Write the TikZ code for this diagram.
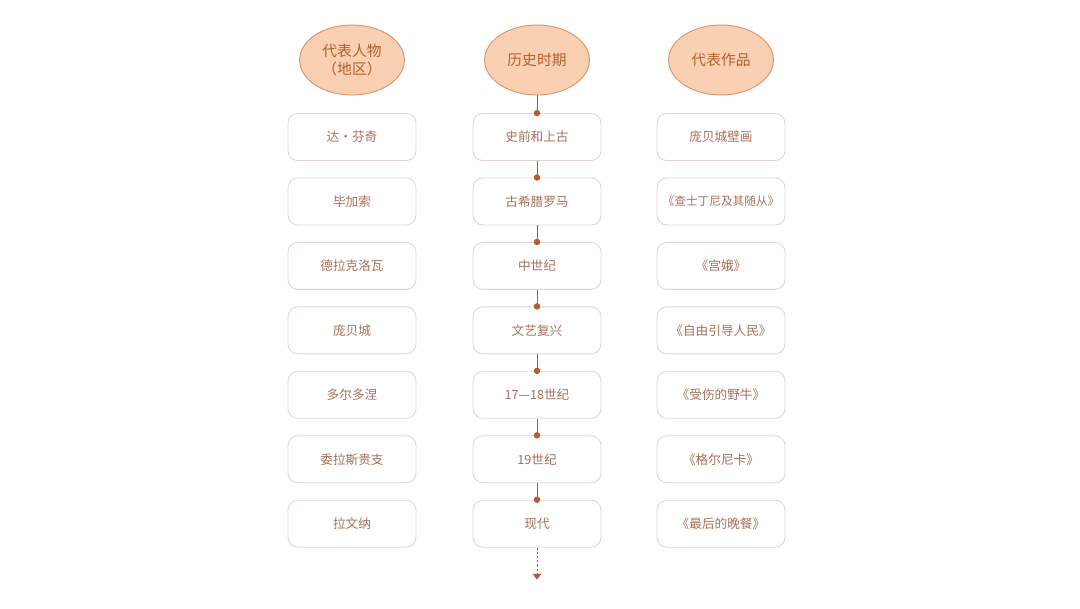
\documentclass[tikz,border=0pt]{standalone}
\usepackage{fontspec}
\newfontfamily\cjk{Noto Sans CJK SC}
\definecolor{peachfill}{HTML}{F9D0B2}
\definecolor{peachdraw}{HTML}{DB9670}
\definecolor{headtext}{HTML}{B4602F}
\definecolor{boxtext}{HTML}{A8705C}
\definecolor{boxline}{HTML}{E3D3CE}
\definecolor{linkred}{HTML}{B65A33}
\usetikzlibrary{
  positioning,
  arrows.meta,
  shapes.geometric
}

\begin{document}
\begin{tikzpicture}[
  head/.style={
    ellipse, minimum width=2.62cm, minimum height=1.75cm, inner sep=0pt,
    fill=peachfill, draw=peachdraw, line width=0.7pt,
    font=\cjk\fontsize{10.5}{13}\selectfont, text=headtext, align=center
  },
  cell/.style={
    rectangle, rounded corners=7pt, minimum width=3.2cm, minimum height=1.175cm,
    inner xsep=2pt, draw=boxline, line width=0.6pt, fill=white,
    font=\cjk\fontsize{9}{11}\selectfont, text=boxtext
  },
  link/.style={draw=linkred, line width=0.7pt, -{Circle[length=4.5pt]}, shorten >=-2.25pt}
]
\useasboundingbox (0,0) rectangle (27,-15.2);

% column heads
\node[head] (people) at (8.8,-1.5) {代表人物\\（地区）};
\node[head] (period) at (13.425,-1.5) {历史时期};
\node[head] (works) at (18.025,-1.5) {代表作品};

% people
\node[cell, below=0.44cm of people] (a1) {达·芬奇};
\node[cell, below=0.415cm of a1] (a2) {毕加索};
\node[cell, below=0.415cm of a2] (a3) {德拉克洛瓦};
\node[cell, below=0.415cm of a3] (a4) {庞贝城};
\node[cell, below=0.415cm of a4] (a5) {多尔多涅};
\node[cell, below=0.415cm of a5] (a6) {委拉斯贵支};
\node[cell, below=0.415cm of a6] (a7) {拉文纳};

% periods
\node[cell, below=0.44cm of period] (p1) {史前和上古};
\node[cell, below=0.415cm of p1] (p2) {古希腊罗马};
\node[cell, below=0.415cm of p2] (p3) {中世纪};
\node[cell, below=0.415cm of p3] (p4) {文艺复兴};
\node[cell, below=0.415cm of p4] (p5) {17—18世纪};
\node[cell, below=0.415cm of p5] (p6) {19世纪};
\node[cell, below=0.415cm of p6] (p7) {现代};
\coordinate[below=0.8cm of p7] (later);

% works
\node[cell, below=0.44cm of works] (w1) {庞贝城壁画};
\node[cell, below=0.415cm of w1, font=\cjk\fontsize{8.3}{10}\selectfont] (w2) {《查士丁尼及其随从》};
\node[cell, below=0.415cm of w2] (w3) {《宫娥》};
\node[cell, below=0.415cm of w3] (w4) {《自由引导人民》};
\node[cell, below=0.415cm of w4] (w5) {《受伤的野牛》};
\node[cell, below=0.415cm of w5] (w6) {《格尔尼卡》};
\node[cell, below=0.415cm of w6] (w7) {《最后的晚餐》};

% timeline
\draw[link] (period) -- (p1);
\draw[link] (p1) -- (p2);
\draw[link] (p2) -- (p3);
\draw[link] (p3) -- (p4);
\draw[link] (p4) -- (p5);
\draw[link] (p5) -- (p6);
\draw[link] (p6) -- (p7);
\draw[draw=linkred, line width=0.7pt, dash pattern=on 1.5pt off 1.5pt,
  -{Triangle[length=4pt, width=6pt]}] (p7) -- (later);

\end{tikzpicture}
\end{document}
